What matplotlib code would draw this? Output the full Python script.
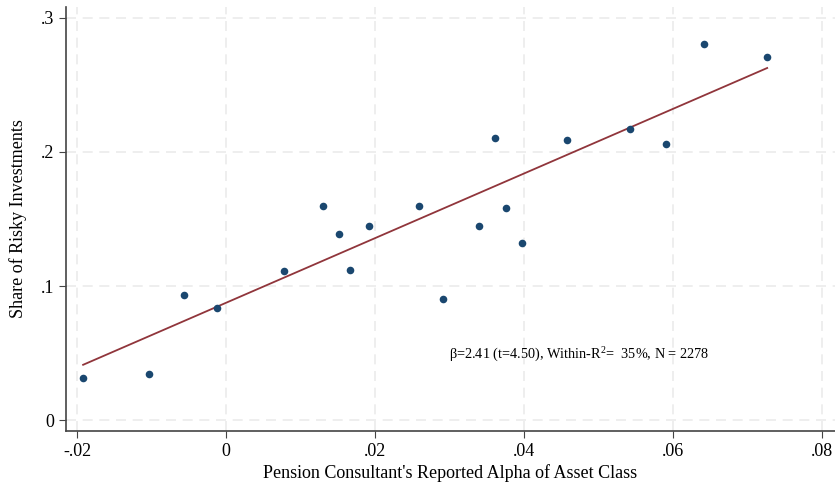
import numpy as np
import matplotlib
matplotlib.use("Agg")
import matplotlib.pyplot as plt

plt.rcParams['font.family'] = ['Liberation Serif', 'DejaVu Serif']

# binned means (20 bins) of reported alpha vs. share of risky investments
alpha = [-0.0192, -0.0103, -0.0057, -0.0012, 0.0077, 0.0130, 0.0151, 0.0166,
         0.0192, 0.0259, 0.0291, 0.0339, 0.0361, 0.0376, 0.0397, 0.0458,
         0.0542, 0.0590, 0.0641, 0.0726]
risky = [0.0316, 0.0346, 0.0933, 0.0840, 0.1114, 0.1599, 0.1390, 0.1122,
         0.1448, 0.1594, 0.0903, 0.1450, 0.2101, 0.1582, 0.1318, 0.2087,
         0.2174, 0.2057, 0.2806, 0.2711]

beta = 2.41
intercept = 0.0876
note = r"$\mathregular{\beta}$=2.41 (t=4.50), Within-R$^{\mathregular{2}}$=  35%, N = 2278"

xticks = [-0.02, 0, 0.02, 0.04, 0.06, 0.08]
xticklabels = ['-.02', '0', '.02', '.04', '.06', '.08']
yticks = [0, 0.1, 0.2, 0.3]
yticklabels = ['0', '.1', '.2', '.3']

fig = plt.figure(figsize=(8.35, 4.84), dpi=100)
ax = fig.add_axes([0.079, 0.109, 0.921, 0.877])

xfit = np.array([min(alpha), max(alpha)])
ax.plot(xfit, intercept + beta * xfit, color='#90353b', lw=1.3, zorder=2)
ax.scatter(alpha, risky, s=30, color='#1a476f', zorder=3, linewidths=0)

ax.text(0.0299, 0.0495, note, fontsize=10.3, va='center', ha='left')

ax.set_xlim(-0.0215, 0.0817)
ax.set_ylim(-0.0082, 0.3082)
ax.set_xticks(xticks)
ax.set_xticklabels(xticklabels)
ax.set_yticks(yticks)
ax.set_yticklabels(yticklabels)
ax.tick_params(labelsize=13, length=5, color='#444444')

ax.grid(True, color='#ebebeb', linestyle=(0, (6, 4)), lw=1.2, zorder=0)
ax.set_axisbelow(True)
for side in ['top', 'right']:
    ax.spines[side].set_visible(False)
for side in ['left', 'bottom']:
    ax.spines[side].set_color('#444444')
    ax.spines[side].set_linewidth(1.2)

ax.set_xlabel("Pension Consultant's Reported Alpha of Asset Class", fontsize=13, labelpad=3)
ax.set_ylabel("Share of Risky Investments", fontsize=13, labelpad=10)

fig.savefig("out.png", dpi=100)
